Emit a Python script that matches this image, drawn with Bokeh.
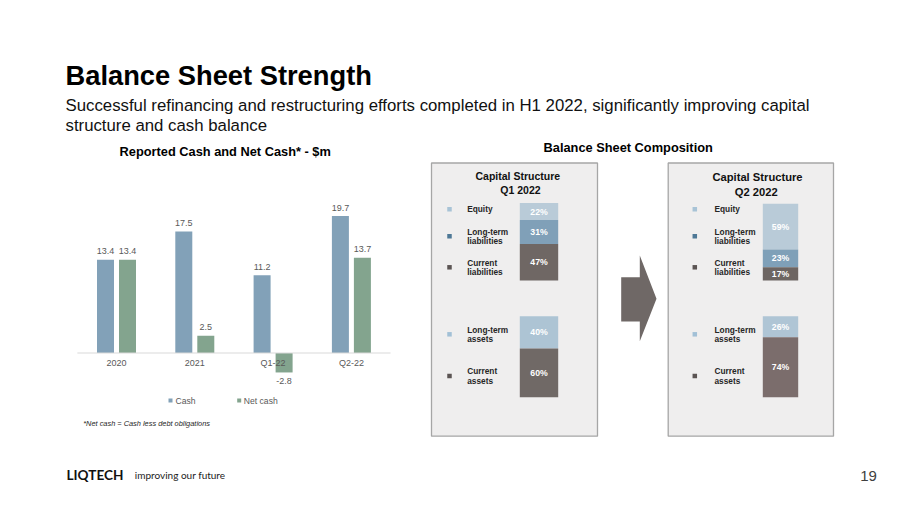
import numpy as np
from bokeh.plotting import figure
from bokeh.models import Range1d, ColumnDataSource
from bokeh.transform import dodge
from bokeh.core.properties import value
from bokeh.embed import file_html
from bokeh.resources import INLINE

# ---------------- data ----------------
categories = ["2020", "2021", "Q1-22", "Q2-22"]
cash = [13.4, 17.5, 11.2, 19.7]
net_cash = [13.4, 2.5, -2.8, 13.7]
series_names = ["Cash", "Net cash"]

periods = ["Q1 2022", "Q2 2022"]
liab_labels = ["Equity", "Long-term\nliabilities", "Current\nliabilities"]
q1_liab = [22, 31, 47]
q2_liab = [59, 23, 17]
asset_labels = ["Long-term\nassets", "Current\nassets"]
q1_assets = [40, 60]
q2_assets = [26, 74]

# ---------------- layout constants (pixels) ----------------
W, H = 900, 506
FONT = value("Liberation Sans")

CH_BASE, CH_PPU = 352.5, 6.95       # zero line, px per $m
CH_X0, CH_BAND = 116.0, 78.3        # first category centre, band width
BAR_W, BAR_OFF = 17.0, 11.0

ST_X0, ST_GAP = 538.5, 241.5        # stacked bar centres
LIAB_BASE, LIAB_PPU = 280.0, 0.775
ASSET_BASE, ASSET_PPU = 396.7, 0.81

p = figure(width=W, height=H, x_range=Range1d(0, W), y_range=Range1d(H, 0),
           output_backend="svg", toolbar_location=None, min_border=0,
           x_axis_location=None, y_axis_location=None, title=None,
           background_fill_color="white", border_fill_color="white",
           outline_line_color=None)
for g in p.grid:
    g.visible = False

p.extra_x_ranges = {
    "cash_x": Range1d(-CH_X0 / CH_BAND, (W - CH_X0) / CH_BAND),
    "st_x": Range1d(-ST_X0 / ST_GAP, (W - ST_X0) / ST_GAP),
}
p.extra_y_ranges = {
    "cash_y": Range1d(-(H - CH_BASE) / CH_PPU, CH_BASE / CH_PPU),
    "liab_y": Range1d(-(H - LIAB_BASE) / LIAB_PPU, LIAB_BASE / LIAB_PPU),
    "asset_y": Range1d(-(H - ASSET_BASE) / ASSET_PPU, ASSET_BASE / ASSET_PPU),
}


def T(x, y, s, size, color="#000000", bold=False, italic=False, align="left",
      baseline="middle", font=FONT, **kw):
    style = "bold italic" if (bold and italic) else ("bold" if bold else ("italic" if italic else "normal"))
    p.text(x=[x], y=[y], text=[s], text_font=font, text_font_size=f"{size}px",
           text_font_style=style, text_color=color, text_align=align,
           text_baseline=baseline, **kw)


# ---------------- headings ----------------
T(65, 75, "Balance Sheet Strength", 27.3, bold=True)
T(65, 104.5, "Successful refinancing and restructuring efforts completed in H1 2022, significantly improving capital",
  16.8, color="#111111")
T(65, 124.5, "structure and cash balance", 16.8, color="#111111")

T(224.7, 151, "Reported Cash and Net Cash* - $m", 12.8, bold=True, align="center")
T(627.7, 147.3, "Balance Sheet Composition", 12.8, bold=True, align="center")

# ---------------- left chart: cash and net cash ----------------
n = len(categories)
idx = np.arange(n)
cash_a = np.array(cash)
net_a = np.array(net_cash)
pad = 8.5 / CH_PPU
src = ColumnDataSource(dict(
    x=idx, cash=cash_a, net=net_a, cat=categories,
    cash_lab=[f"{v:.1f}" for v in cash_a], net_lab=[f"{v:.1f}" for v in net_a],
    cash_ly=np.where(cash_a >= 0, cash_a + pad, cash_a - pad),
    net_ly=np.where(net_a >= 0, net_a + pad, net_a - pad),
    cat_y=np.full(n, -10.2 / CH_PPU),
))
CASH_C, NET_C = "#82a1b8", "#83a48e"
bw = BAR_W / CH_BAND
off = BAR_OFF / CH_BAND
rk = dict(x_range_name="cash_x", y_range_name="cash_y")
p.vbar(x=dodge("x", -off), top="cash", bottom=0, width=bw, source=src,
       fill_color=CASH_C, line_color=None, **rk)
p.vbar(x=dodge("x", off), top="net", bottom=0, width=bw, source=src,
       fill_color=NET_C, line_color=None, **rk)
p.segment(x0=[-0.5], x1=[n - 0.5], y0=[0], y1=[0], line_color="#d9d9d9", line_width=1, **rk)
lab_kw = dict(text_font=FONT, text_font_size="9px", text_color="#595959",
              text_align="center", text_baseline="middle", source=src, **rk)
p.text(x=dodge("x", -off), y="cash_ly", text="cash_lab", **lab_kw)
p.text(x=dodge("x", off), y="net_ly", text="net_lab", **lab_kw)
p.text(x="x", y="cat_y", text="cat", **lab_kw)

# legend
p.scatter(x=[170, 238.7], y=[400, 400], marker="square", size=4,
          fill_color=[CASH_C, NET_C], line_color=None)
p.text(x=[175, 243.3], y=[400, 400], text=series_names, text_font=FONT,
       text_font_size="8.6px", text_color="#595959", text_baseline="middle")
T(82.7, 422.7, "*Net cash = Cash less debt obligations", 7.4, color="#262626", italic=True)

# ---------------- right: capital structure panels ----------------
for left, right in [(431, 597), (667.7, 833)]:
    p.quad(left=[left], right=[right], top=[162.5], bottom=[435.7],
           fill_color="#efeeee", line_color="#a6a6a6", line_width=1.3)

# arrow
p.patch(x=[620.7, 639.3, 639.3, 656, 639.3, 639.3, 620.7],
        y=[276.7, 276.7, 255, 298.3, 340.7, 321, 321],
        fill_color="#6f6866", line_color=None)

panel_titles = [(517.3, 175.7, 520, 189.3, 10.5), (757, 176.7, 755.8, 191, 11.2)]
for k, (tx, ty, qx, qy, fs) in enumerate(panel_titles):
    T(tx, ty, "Capital Structure", fs, color="#111111", bold=True, align="center")
    T(qx, qy, periods[k], fs, color="#111111", bold=True, align="center")

liab_colors = [["#b9cbd8", "#80a0b8", "#6f6764"], ["#b9cbd8", "#7fa0b8", "#6d6562"]]
asset_colors = [["#adc4d4", "#706966"], ["#afc5d5", "#7b6d6c"]]
liab_marker = ["#a8c3d6", "#4e7896", "#5b5453"]
asset_marker = ["#a2c0d6", "#5b5453"]
bar_w_px = [38.4, 35.4]


def stack(vals):
    vals = np.array(vals, dtype=float)
    rev = vals[::-1]
    tops_r = np.cumsum(rev)
    bots_r = tops_r - rev
    return bots_r[::-1], tops_r[::-1]


for k, (liab, assets) in enumerate([(q1_liab, q1_assets), (q2_liab, q2_assets)]):
    w = bar_w_px[k] / ST_GAP
    b, t = stack(liab)
    p.vbar(x=[k] * len(liab), bottom=b, top=t, width=w, fill_color=liab_colors[k],
           line_color=None, x_range_name="st_x", y_range_name="liab_y")
    p.text(x=[k] * len(liab), y=(b + t) / 2, text=[f"{v}%" for v in liab],
           text_font=FONT, text_font_size="8.7px", text_font_style="bold",
           text_color="#ffffff", text_align="center", text_baseline="middle",
           x_range_name="st_x", y_range_name="liab_y")
    b2, t2 = stack(assets)
    p.vbar(x=[k] * len(assets), bottom=b2, top=t2, width=w, fill_color=asset_colors[k],
           line_color=None, x_range_name="st_x", y_range_name="asset_y")
    p.text(x=[k] * len(assets), y=(b2 + t2) / 2, text=[f"{v}%" for v in assets],
           text_font=FONT, text_font_size="8.7px", text_font_style="bold",
           text_color="#ffffff", text_align="center", text_baseline="middle",
           x_range_name="st_x", y_range_name="asset_y")

# legends inside panels
leg_pos = [(449, 466.7), (694.3, 714)]
liab_leg_y = [208.7, 235.8, 266.8]
asset_leg_y = [333.8, 375.5]
LINE = 9.2


def legend_block(mx, tx, ys, labels, colors):
    p.scatter(x=[mx] * len(ys), y=ys, marker="square", size=4.5,
              fill_color=colors, line_color=None)
    for yc, lab in zip(ys, labels):
        lines = lab.split("\n")
        y0 = yc - (len(lines) - 1) * LINE / 2
        for j, ln in enumerate(lines):
            T(tx, y0 + j * LINE, ln, 8.3, color="#262626", bold=True)


for k in range(2):
    mx, tx = leg_pos[k]
    legend_block(mx, tx, liab_leg_y, liab_labels, liab_marker)
    legend_block(mx, tx, asset_leg_y, asset_labels, asset_marker)

# ---------------- footer ----------------
T(66, 474.5, "LIQTECH", 13.6, color="#111111", bold=True, font=value("Lato"))
T(134.3, 474.5, "improving our future", 10.0, color="#222222", font=value("Lato"))
T(868, 475.7, "19", 15, color="#404040", align="center")

open("out.html", "w").write(file_html(p, INLINE))
